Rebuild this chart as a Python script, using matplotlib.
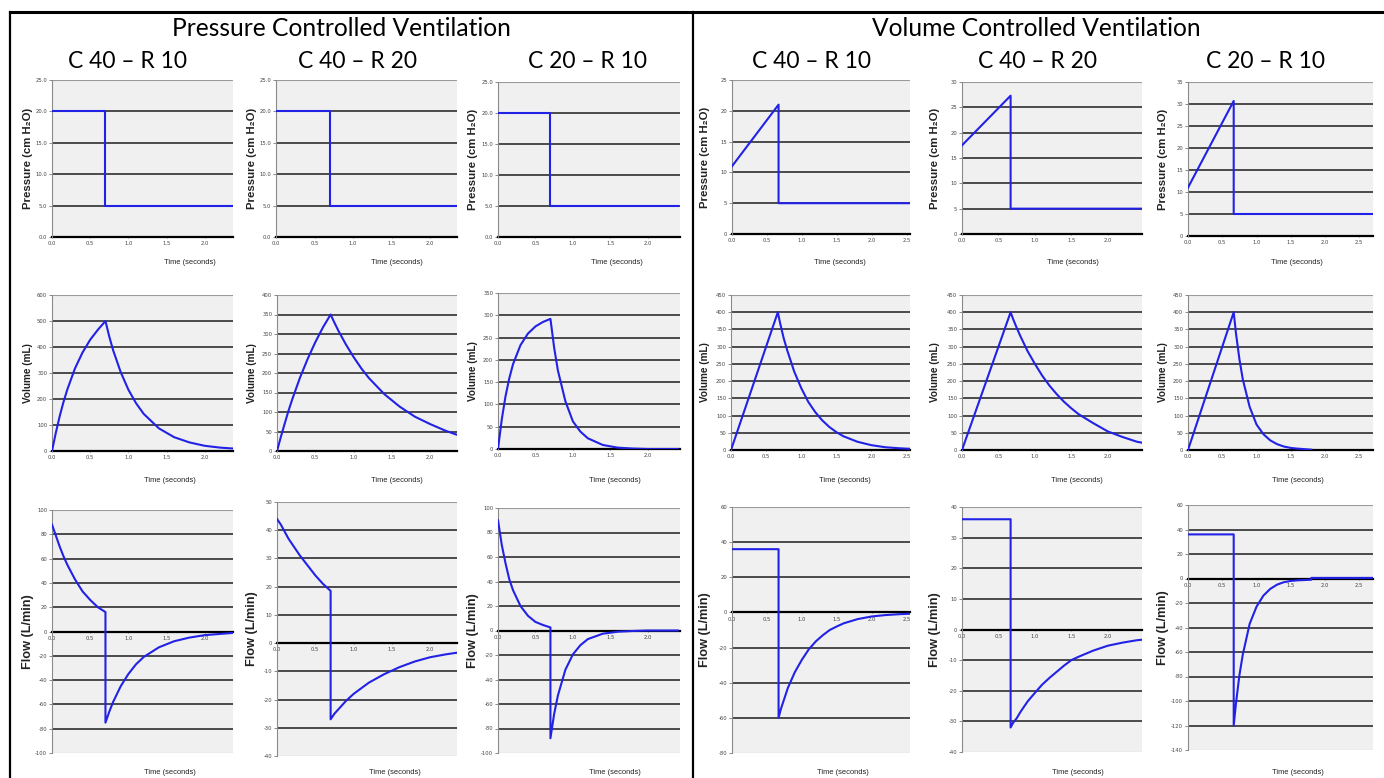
import numpy as np
import matplotlib
matplotlib.use("Agg")
import matplotlib.pyplot as plt
from matplotlib.lines import Line2D

# --- titles ---
group_titles = ["Pressure Controlled Ventilation", "Volume Controlled Ventilation"]
case_titles = ["C 40 – R 10", "C 40 – R 20", "C 20 – R 10",
               "C 40 – R 10", "C 40 – R 20", "C 20 – R 10"]

# --- pressure controlled: time grids (s) ---
pcv_p_time = [0, 0.7, 0.7, 2.4]
pcv_time = [0, 0.05, 0.1, 0.15, 0.2, 0.3, 0.4, 0.5, 0.6, 0.7, 0.7, 0.75, 0.8,
            0.9, 1.0, 1.1, 1.2, 1.4, 1.6, 1.8, 2.0, 2.2, 2.4]

pcv1_pres = [20, 20, 5, 5]
pcv2_pres = [20, 20, 5, 5]
pcv3_pres = [20, 20, 5, 5]

pcv1_vol = [0, 70, 133, 188, 236, 317, 379, 428, 466, 500, 500, 440, 388, 303,
            236, 184, 143, 87, 53, 33, 20, 13, 9]
pcv2_vol = [0, 36, 70, 103, 133, 188, 236, 279, 317, 350, 350, 329, 309, 273,
            241, 212, 187, 146, 114, 88, 69, 52, 38]
pcv3_vol = [0, 66, 118, 158, 190, 233, 259, 275, 285, 292, 292, 227, 176, 107,
            62, 39, 24, 9, 3, 1, 0, 0, 0]

pcv1_flow = [88, 79, 70, 62, 55, 43, 33, 26, 20, 16, -75, -66, -58, -45, -35,
             -27, -21, -13, -8, -5, -3, -2, -1]
pcv2_flow = [44, 42, 39.5, 37, 35, 31, 27.5, 24, 21, 18.5, -27, -25, -23.5,
             -20.5, -18, -16, -14, -11, -8.5, -6.5, -5, -4, -3.2]
pcv3_flow = [90, 70, 55, 42, 33, 20, 12, 7, 4.5, 2.5, -88, -68, -53, -32,
             -19.5, -12, -7, -2.6, -1, -0.4, 0, 0, 0]

# --- volume controlled ---
vcv_p_time = [0, 0.667, 0.667, 2.7]
vcv_time = [0, 0.667, 0.667, 0.7, 0.75, 0.8, 0.9, 1.0, 1.1, 1.2, 1.3, 1.4, 1.5,
            1.6, 1.8, 1.8, 2.0, 2.2, 2.4, 2.7]

vcv1_pres = [11, 21, 5, 5]
vcv2_pres = [17.5, 27.3, 5, 5]
vcv3_pres = [11, 30.7, 5, 5]

vcv1_vol = [0, 400, 400, 368, 325, 290, 228, 180, 140, 110, 86, 67, 52, 40,
            24, 24, 14, 8, 5, 2]
vcv2_vol = [0, 400, 400, 381, 355, 331, 287, 250, 216, 187, 162, 140, 121, 104,
            78, 78, 54, 38, 24, 12]
vcv3_vol = [0, 400, 400, 339, 264, 205, 125, 74, 46, 28, 17, 10, 6, 4, 1,
            np.nan, np.nan, np.nan, np.nan, np.nan]

vcv1_flow = [36, 36, -60, -55, -49, -43, -34, -27, -21, -16.5, -13, -10, -8,
             -6.2, -3.8, -3.8, -2.3, -1.5, -1, -0.5]
vcv2_flow = [36, 36, -32, -30.5, -29, -27, -23.5, -20.7, -18, -15.8, -13.8,
             -11.8, -10, -8.9, -6.9, -6.9, -5.3, -4.3, -3.5, -2.8]
vcv3_flow = [36, 36, -120, -102, -79, -62, -37, -23, -14, -8.5, -5, -3, -2,
             -1.5, -1, 0.5, 0.5, 0.5, 0.5, 0.5]

# axis ranges per column / row
x_max = [2.37, 2.35, 2.43, 2.55, 2.47, 2.7]
pres_ylim = [(0, 25, 5), (0, 25, 5), (0, 25, 5), (0, 25, 5), (0, 30, 5), (0, 35, 5)]
vol_ylim = [(0, 600, 100), (0, 400, 50), (0, 350, 50), (0, 450, 50), (0, 450, 50), (0, 450, 50)]
flow_ylim = [(-100, 100, 20), (-40, 50, 10), (-100, 100, 20), (-80, 60, 20), (-40, 40, 10), (-140, 60, 20)]

W, H = 1384, 778
BLUE = "#2222e6"
BG = "#f0f0f0"

# pixel boxes (left, top, right, bottom)
boxes = [
    [(52, 80, 233, 237), (276, 80, 457, 237), (498, 82, 680, 237),
     (732, 80, 910, 234), (962, 82, 1142, 234), (1188, 82, 1373, 236)],
    [(52, 295, 233, 451), (277, 295, 457, 451), (498, 293, 680, 449),
     (731, 295, 910, 450), (962, 295, 1142, 450), (1188, 295, 1373, 450)],
    [(52, 510, 233, 753), (277, 502, 457, 756), (498, 508, 680, 753),
     (732, 507, 910, 753), (962, 507, 1142, 752), (1188, 505, 1373, 750)],
]
ylabel_x = [28, 252, 473, 705, 935, 1163]
time_x = [[190, 397, 617, 840, 1073, 1297],
          [170, 397, 615, 845, 1077, 1298],
          [170, 395, 615, 843, 1078, 1298]]
time_y = [263, 480, 772]

fig = plt.figure(figsize=(W / 100, H / 100), dpi=100)
fig.patch.set_facecolor("white")


def fx(x):
    return x / W


def fy(y):
    return 1 - y / H


series = [
    [(pcv_p_time, pcv1_pres), (pcv_p_time, pcv2_pres), (pcv_p_time, pcv3_pres),
     (vcv_p_time, vcv1_pres), (vcv_p_time, vcv2_pres), (vcv_p_time, vcv3_pres)],
    [(pcv_time, pcv1_vol), (pcv_time, pcv2_vol), (pcv_time, pcv3_vol),
     (vcv_time, vcv1_vol), (vcv_time, vcv2_vol), (vcv_time, vcv3_vol)],
    [(pcv_time, pcv1_flow), (pcv_time, pcv2_flow), (pcv_time, pcv3_flow),
     (vcv_time, vcv1_flow), (vcv_time, vcv2_flow), (vcv_time, vcv3_flow)],
]
ylims = [pres_ylim, vol_ylim, flow_ylim]
ylabels = ["Pressure (cm H\u2082O)", "Volume (mL)", "Flow (L/min)"]
ylabel_size = [8.2, 7.2, 9.2]
lab_font = ["Liberation Sans", "DejaVu Sans"]

for r in range(3):
    for c in range(6):
        l, t, rr, b = boxes[r][c]
        ax = fig.add_axes([fx(l), fy(b), (rr - l) / W, (b - t) / H])
        ax.set_facecolor(BG)
        lo, hi, step = ylims[r][c]
        yt = np.arange(lo, hi + step / 2, step)
        ax.set_ylim(lo, hi)
        ax.set_xlim(0, x_max[c])
        ax.set_yticks(yt)
        if r == 0 and c < 3:
            ax.set_yticklabels(["%.1f" % v for v in yt])
        else:
            ax.set_yticklabels(["%d" % v for v in yt])
        xt = np.arange(0, x_max[c] + 0.01, 0.5)
        ax.set_xticks(xt)
        ax.set_xticklabels(["%.1f" % v for v in xt])

        # horizontal grid
        for v in yt:
            if v == lo or v == hi or v == 0:
                continue
            ax.axhline(v, color="#2e2e2e", lw=1.2, zorder=1)
        ax.axhline(hi, color="#9a9a9a", lw=0.8, zorder=1)
        if lo < 0:
            ax.axhline(lo, color="#9a9a9a", lw=0.8, zorder=1)

        tt, vv = series[r][c]
        ax.plot(tt, vv, color=BLUE, lw=1.5, zorder=3, clip_on=True)

        for s in ["top", "right"]:
            ax.spines[s].set_visible(False)
        ax.spines["left"].set_color("#8a8a8a")
        ax.spines["left"].set_linewidth(0.8)
        ax.spines["bottom"].set_color("black")
        ax.spines["bottom"].set_linewidth(1.6)
        ax.spines["bottom"].set_zorder(2)
        if lo < 0:
            ax.spines["bottom"].set_position(("data", 0))

        ax.tick_params(axis="y", length=2, width=0.6, color="#777777",
                       labelsize=3.8, labelcolor="#444444", pad=1.5)
        ax.tick_params(axis="x", length=2, width=0.6, color="#777777",
                       direction="inout", labelsize=3.8, labelcolor="#444444", pad=2)

        fig.text(fx(ylabel_x[c]), fy((t + b) / 2), ylabels[r], rotation=90,
                 ha="center", va="center", fontsize=ylabel_size[r],
                 fontweight="bold", family=lab_font, color="#222222")
        fig.text(fx(time_x[r][c]), fy(time_y[r]), "Time (seconds)",
                 ha="center", va="center", fontsize=5.4, family=lab_font,
                 color="#222222")

# frame lines
fig.add_artist(Line2D([fx(10), 1], [fy(12), fy(12)], color="black", lw=2.2))
fig.add_artist(Line2D([fx(10), fx(10)], [fy(12), 0], color="black", lw=1.6))
fig.add_artist(Line2D([fx(693), fx(693)], [fy(12), 0], color="black", lw=1.6))

fig.text(fx(341), fy(28), group_titles[0], ha="center", va="center",
         fontsize=17.7, family="Lato")
fig.text(fx(1036), fy(28), group_titles[1], ha="center", va="center",
         fontsize=17.7, family="Lato")
sub_x = [128, 357, 588, 811, 1037, 1266]
for sx, txt in zip(sub_x, case_titles):
    fig.text(fx(sx), fy(61), txt, ha="center", va="center", fontsize=16.5,
             family="Lato")

fig.savefig("out.png", dpi=100)
